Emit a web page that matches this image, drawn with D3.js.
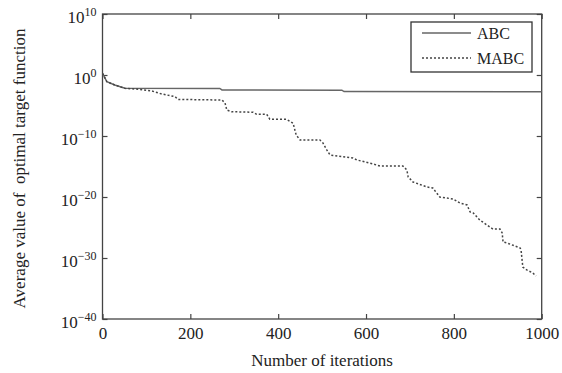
<!DOCTYPE html>
<html>
<head>
<meta charset="utf-8">
<script src="https://cdn.jsdelivr.net/npm/d3@7/dist/d3.min.js"></script>
<style>
body { margin: 0; background: #fff; }
svg text { font-family: "Liberation Serif", "Times New Roman", serif; fill: #222; }
</style>
</head>
<body>
<div id="chart"></div>
<script>
// iterations and objective values
var abcIter = [0, 10, 28, 51, 267, 272, 545, 550, 1000];
var abcVal = [1.9, 7.9e-2, 2.3e-2, 6.6e-3, 6.3e-3, 3.5e-3, 3.2e-3, 1.9e-3, 1.8e-3];

var mabcIter = [0, 10, 28, 51, 81, 112, 135, 165, 172, 272, 279, 283, 294, 343, 351, 374, 381, 419,
    434, 438, 441, 450, 495, 502, 511, 518, 570, 579, 616, 632, 684, 693, 696, 707, 739, 752, 768,
    798, 814, 830, 837, 844, 859, 882, 889, 905, 910, 912, 921, 951, 953, 957, 966, 980, 987];
var mabcVal = [1.9, 7.9e-2, 2.3e-2, 6.6e-3, 4.6e-3, 2.4e-3, 7.8e-4, 2.8e-4, 1.0e-4, 7.9e-5, 2.6e-5,
    1.8e-6, 9.5e-7, 7.8e-7, 3.6e-7, 3.6e-7, 5.5e-8, 5.5e-8, 1.2e-8, 9.5e-10, 1.4e-10, 2.2e-11, 2.2e-11,
    7.1e-12, 5.0e-13, 7.8e-14, 2.5e-14, 1.2e-14, 2.6e-15, 1.2e-15, 1.2e-15, 2.7e-16, 1.9e-17, 2.9e-18,
    4.4e-19, 3.0e-19, 1.0e-20, 4.7e-21, 1.0e-21, 4.9e-22, 3.5e-23, 2.4e-23, 1.7e-24, 1.2e-25, 5.6e-26,
    5.6e-26, 1.3e-26, 4.2e-28, 2.9e-28, 4.4e-29, 2.0e-29, 3.3e-32, 1.1e-32, 3.5e-33, 1.1e-33];

var xTicks = [0, 200, 400, 600, 800, 1000];
var yExps = [10, 0, -10, -20, -30, -40];
var seriesNames = ["ABC", "MABC"];

var width = 562, height = 373;
var m = {left: 102.5, top: 14, right: 20.3, bottom: 54};
var w = width - m.left - m.right, h = height - m.top - m.bottom;

var svg = d3.select("#chart").append("svg")
    .attr("width", width)
    .attr("height", height);

var g = svg.append("g").attr("transform", "translate(" + m.left + "," + m.top + ")");

var x = d3.scaleLinear().domain([0, 1000]).range([0, w]);
var y = d3.scaleLog().domain([1e-40, 1e10]).range([h, 0]);
var yTicks = yExps.map(function(e) { return Math.pow(10, e); });

function styleAxis(sel) {
    sel.select(".domain").remove();
    sel.selectAll(".tick line").attr("stroke", "#444").attr("stroke-width", 1.2);
}

g.append("g")
    .attr("transform", "translate(0," + h + ")")
    .call(d3.axisBottom(x).tickValues(xTicks).tickSize(-5).tickPadding(8).tickFormat(d3.format("d")))
    .call(styleAxis)
    .selectAll("text")
    .attr("font-size", 17)
    .attr("fill", "#222");

g.append("g")
    .call(d3.axisTop(x).tickValues(xTicks).tickSize(-5).tickFormat(""))
    .call(styleAxis);

g.append("g")
    .call(d3.axisLeft(y).tickValues(yTicks).tickSize(-5).tickFormat(""))
    .call(styleAxis);

g.append("g")
    .attr("transform", "translate(" + w + ",0)")
    .call(d3.axisRight(y).tickValues(yTicks).tickSize(-5).tickFormat(""))
    .call(styleAxis);

// y tick labels as 10 with superscript exponent
var yl = g.selectAll(".ylab")
    .data(yExps)
    .enter().append("text")
    .attr("class", "ylab")
    .attr("x", -6)
    .attr("y", function(d) { return y(Math.pow(10, d)) + 9; })
    .attr("text-anchor", "end")
    .attr("font-size", 17);
yl.append("tspan").text("10");
yl.append("tspan")
    .attr("dy", -7)
    .attr("font-size", 12)
    .text(function(d) { return d < 0 ? "\u2212" + (-d) : String(d); });

// frame
g.append("rect")
    .attr("width", w)
    .attr("height", h)
    .attr("fill", "none")
    .attr("stroke", "#444")
    .attr("stroke-width", 1.3);

var line = d3.line()
    .x(function(d) { return x(d[0]); })
    .y(function(d) { return y(d[1]); });

g.append("path")
    .datum(d3.zip(abcIter, abcVal))
    .attr("d", line)
    .attr("fill", "none")
    .attr("stroke", "#666")
    .attr("stroke-width", 1.5);

g.append("path")
    .datum(d3.zip(mabcIter, mabcVal))
    .attr("d", line)
    .attr("fill", "none")
    .attr("stroke", "#444")
    .attr("stroke-width", 1.5)
    .attr("stroke-dasharray", "2,2");

// legend
var lg = svg.append("g").attr("transform", "translate(411,22)");
lg.append("rect")
    .attr("width", 121)
    .attr("height", 50)
    .attr("fill", "#fff")
    .attr("stroke", "#333")
    .attr("stroke-width", 1.3);
lg.selectAll(".lline")
    .data(seriesNames)
    .enter().append("line")
    .attr("x1", 11).attr("x2", 60)
    .attr("y1", function(d, i) { return 11 + i * 25; })
    .attr("y2", function(d, i) { return 11 + i * 25; })
    .attr("stroke", function(d, i) { return i ? "#444" : "#666"; })
    .attr("stroke-width", 1.5)
    .attr("stroke-dasharray", function(d, i) { return i ? "2,2" : null; });
lg.selectAll(".ltext")
    .data(seriesNames)
    .enter().append("text")
    .attr("x", 66)
    .attr("y", function(d, i) { return 17 + i * 25; })
    .attr("font-size", 16)
    .text(function(d) { return d; });

// axis titles
svg.append("text")
    .attr("x", m.left + w / 2)
    .attr("y", 366)
    .attr("text-anchor", "middle")
    .attr("font-size", 17)
    .text("Number of iterations");

svg.append("text")
    .attr("transform", "translate(25," + (m.top + h / 2 + 2) + ") rotate(-90)")
    .attr("text-anchor", "middle")
    .attr("font-size", 17)
    .style("white-space", "pre")
    .text("Average value of  optimal target function");
</script>
</body>
</html>
